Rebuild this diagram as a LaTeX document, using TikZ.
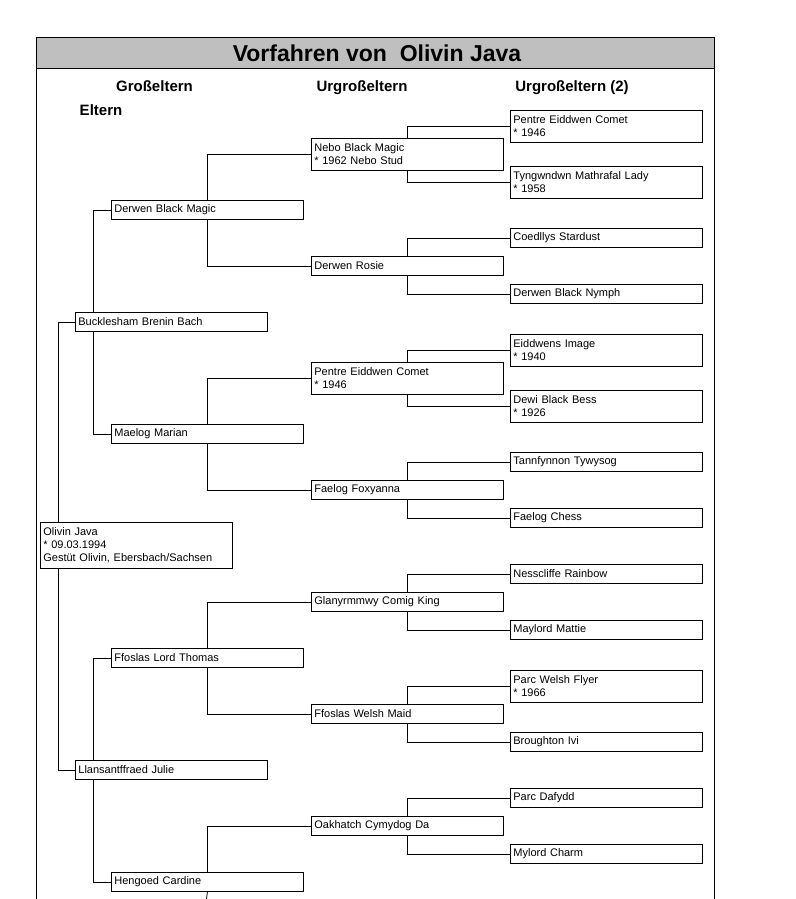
\documentclass[tikz,border=0pt]{standalone}
\usepackage{fontspec}
\setmainfont{Liberation Sans}
\usepackage{tikz}
\usetikzlibrary{positioning}
\tikzset{
x=1pt, y=-1pt, % one unit is one pixel of the page, y grows downwards
every node/.style={font=\fontsize{11}{13}\selectfont}, % text in the boxes
horse/.style={draw, rectangle, anchor=west, text width=186pt, inner xsep=3pt, inner ysep=0pt, minimum height=19pt, align=left, line width=0.8pt}, % one box of the pedigree
horse2/.style={horse, minimum height=32pt}, % box with a second line (year of birth)
horse3/.style={horse, minimum height=46pt}, % box with three lines
heading/.style={anchor=base, font=\bfseries\fontsize{15}{17}\selectfont}, % column headings
link/.style={line width=0.8pt}, % the connectors
}

\begin{document}
\begin{tikzpicture}
  \useasboundingbox (0,0) rectangle (795,899);

  % Frame and title
  \fill[black!25] (36.5,37.5) rectangle (714,68.5);
  \draw[line width=0.9pt] (36.5,899) -- (36.5,37.5) -- (714,37.5) -- (714,899);
  \draw[line width=1.6pt] (36.5,68.5) -- (714,68.5);
  \node[font=\bfseries\fontsize{23}{25}\selectfont] (title) at (377,53) {Vorfahren von~ Olivin Java};

  % Headings
  \node[heading] (hgross) at (154.5,91) {Großeltern};
  \node[heading] (hurgross) at (362,91) {Urgroßeltern};
  \node[heading] (hurgross2) at (572,91) {Urgroßeltern (2)};
  \node[heading] (heltern) at (101,115) {Eltern};

  % Horse
  \node[horse3] (olivin) at (40,545) {Olivin Java\\{*} 09.03.1994\\Gestüt Olivin, Ebersbach/Sachsen};

  % Parents
  \node[horse] (bucklesham) at (75,322) {Bucklesham Brenin Bach};
  \node[horse] (llansantffraed) at (75,770) {Llansantffraed Julie};

  % Grandparents
  \node[horse] (derwenbm) at (111,210) {Derwen Black Magic};
  \node[horse] (maelog) at (111,434) {Maelog Marian};
  \node[horse] (ffoslaslt) at (111,658) {Ffoslas Lord Thomas};
  \node[horse] (hengoed) at (111,882) {Hengoed Cardine};

  % Great grandparents
  \node[horse2] (nebo) at (311,154) {Nebo Black Magic\\{*} 1962 Nebo Stud};
  \node[horse] (derwenrosie) at (311,266) {Derwen Rosie};
  \node[horse2] (pentre) at (311,378) {Pentre Eiddwen Comet\\{*} 1946};
  \node[horse] (faelogfox) at (311,490) {Faelog Foxyanna};
  \node[horse] (glanyr) at (311,602) {Glanyrmmwy Comig King};
  \node[horse] (ffoslaswm) at (311,714) {Ffoslas Welsh Maid};
  \node[horse] (oakhatch) at (311,826) {Oakhatch Cymydog Da};
  \coordinate (hengoednext) at (206.5,899);

  % Great great grandparents
  \node[horse2] (pentre2) at (510,126) {Pentre Eiddwen Comet\\{*} 1946};
  \node[horse2] (tyngwndwn) at (510,182) {Tyngwndwn Mathrafal Lady\\{*} 1958};
  \node[horse] (coedllys) at (510,238) {Coedllys Stardust};
  \node[horse] (derwenbn) at (510,294) {Derwen Black Nymph};
  \node[horse2] (eiddwens) at (510,350) {Eiddwens Image\\{*} 1940};
  \node[horse2] (dewi) at (510,406) {Dewi Black Bess\\{*} 1926};
  \node[horse] (tannfynnon) at (510,462) {Tannfynnon Tywysog};
  \node[horse] (faelogchess) at (510,518) {Faelog Chess};
  \node[horse] (nesscliffe) at (510,574) {Nesscliffe Rainbow};
  \node[horse] (maylord) at (510,630) {Maylord Mattie};
  \node[horse2] (parcwf) at (510,686) {Parc Welsh Flyer\\{*} 1966};
  \node[horse] (broughton) at (510,742) {Broughton Ivi};
  \node[horse] (parcdafydd) at (510,798) {Parc Dafydd};
  \node[horse] (mylord) at (510,854) {Mylord Charm};

  % Connectors
  \draw[link] ([xshift=18pt]olivin.north west) |- (bucklesham.west);
  \draw[link] ([xshift=18pt]olivin.south west) |- (llansantffraed.west);
  \draw[link] ([xshift=18pt]bucklesham.north west) |- (derwenbm.west);
  \draw[link] ([xshift=18pt]bucklesham.south west) |- (maelog.west);
  \draw[link] ([xshift=18pt]llansantffraed.north west) |- (ffoslaslt.west);
  \draw[link] ([xshift=18pt]llansantffraed.south west) |- (hengoed.west);
  \draw[link] (derwenbm.north) |- (nebo.west);
  \draw[link] (derwenbm.south) |- (derwenrosie.west);
  \draw[link] (maelog.north) |- (pentre.west);
  \draw[link] (maelog.south) |- (faelogfox.west);
  \draw[link] (ffoslaslt.north) |- (glanyr.west);
  \draw[link] (ffoslaslt.south) |- (ffoslaswm.west);
  \draw[link] (hengoed.north) |- (oakhatch.west);
  \draw[link] (hengoed.south) -- (hengoednext);
  \draw[link] (nebo.north) |- (pentre2.west);
  \draw[link] (nebo.south) |- (tyngwndwn.west);
  \draw[link] (derwenrosie.north) |- (coedllys.west);
  \draw[link] (derwenrosie.south) |- (derwenbn.west);
  \draw[link] (pentre.north) |- (eiddwens.west);
  \draw[link] (pentre.south) |- (dewi.west);
  \draw[link] (faelogfox.north) |- (tannfynnon.west);
  \draw[link] (faelogfox.south) |- (faelogchess.west);
  \draw[link] (glanyr.north) |- (nesscliffe.west);
  \draw[link] (glanyr.south) |- (maylord.west);
  \draw[link] (ffoslaswm.north) |- (parcwf.west);
  \draw[link] (ffoslaswm.south) |- (broughton.west);
  \draw[link] (oakhatch.north) |- (parcdafydd.west);
  \draw[link] (oakhatch.south) |- (mylord.west);
\end{tikzpicture}
\end{document}
